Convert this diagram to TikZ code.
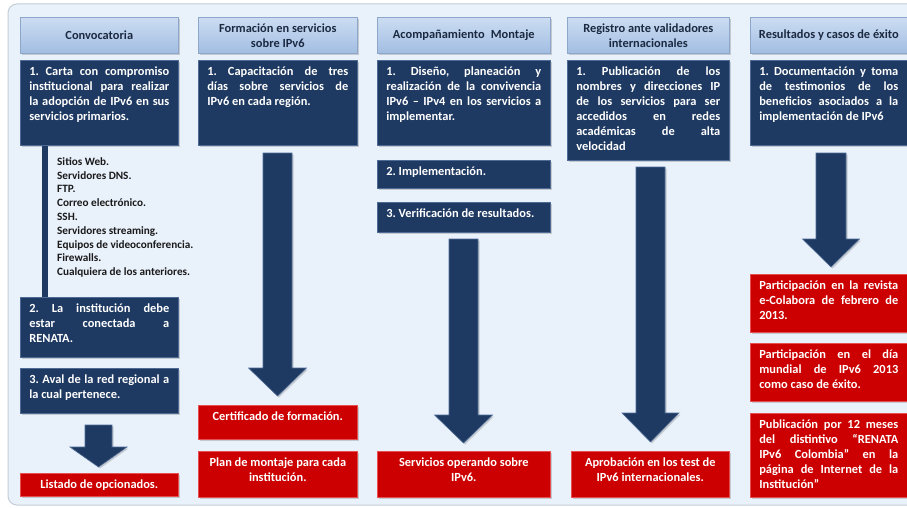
\documentclass[tikz,border=0pt]{standalone}
\usepackage{fontspec}
\setmainfont{Carlito}
\usetikzlibrary{shadows}
\definecolor{bgfill}{HTML}{E9F1FB}
\definecolor{bgline}{HTML}{C5CDD7}
\definecolor{hdrtop}{HTML}{CCDDF2}
\definecolor{hdrbot}{HTML}{A2BDE2}
\definecolor{hdredge}{HTML}{8DA7CB}
\definecolor{hdrtext}{HTML}{1B2A41}
\definecolor{navy}{HTML}{1F3A62}
\definecolor{navyedge}{HTML}{4D6B95}
\definecolor{redbox}{HTML}{CC0000}
\definecolor{rededge}{HTML}{E65050}
\definecolor{listtext}{HTML}{1A1A1A}
\hyphenpenalty=10000 \exhyphenpenalty=10000
\frenchspacing
\newcommand{\jt}[3]{\parbox[t][#2pt][t]{#1pt}{\frenchspacing\rule{0pt}{15pt}#3}}
\newcommand{\ct}[3]{\parbox[t][#2pt][t]{#1pt}{\frenchspacing\centering\rule{0pt}{15pt}#3}}
\newcommand{\blockarrow}[6]{%
  \filldraw[barrow] ({#1-#5/2},#2) -- ({#1+#5/2},#2) -- ({#1+#5/2},#3) -- ({#1+#6/2},#3)
    -- (#1,#4) -- ({#1-#6/2},#3) -- ({#1-#5/2},#3) -- cycle;}
\tikzset{
  shad/.style={drop shadow={shadow xshift=1.5pt, shadow yshift=-1.5pt, opacity=.35}},
  base/.style={rectangle, inner xsep=9pt, inner ysep=0pt, anchor=north west, shad,
    font=\bfseries\fontsize{12.4}{15}\selectfont, text=white},
  hdr/.style={rectangle, anchor=north west, inner sep=0pt, minimum height=36pt,
    top color=hdrtop, bottom color=hdrbot, draw=hdredge, line width=.6pt, shad,
    align=center, text=hdrtext, font=\bfseries\fontsize{12.4}{15}\selectfont},
  dbox/.style={base, fill=navy, draw=navyedge, line width=.6pt},
  rbox/.style={base, fill=redbox, draw=rededge, line width=.6pt},
  listtxt/.style={anchor=north west, inner sep=0pt, align=left, text=listtext,
    font=\bfseries\fontsize{11.2}{13.8}\selectfont},
  barrow/.style={fill=navy, draw=navyedge, line width=.6pt, shad}
}
\begin{document}
\begin{tikzpicture}[x=1pt,y=-1pt]
\useasboundingbox (0,0) rectangle (907,508);
\fill[white] (0,0) rectangle (907,508);
\draw[bgline, fill=bgfill, rounded corners=9pt, line width=1pt] (8,4) rectangle (940,505);

% headers
\node[hdr, minimum width=158pt] (h1) at (20,17) {Convocatoria};
\node[hdr, minimum width=159pt] (h2) at (198,17) {Formación en servicios\\sobre IPv6};
\node[hdr, minimum width=173pt] (h3) at (377,17) {Acompañamiento\enspace Montaje};
\node[hdr, minimum width=162pt] (h4) at (567,17) {Registro ante validadores\\internacionales};
\node[hdr, minimum width=157pt] (h5) at (750,17) {Resultados y casos de éxito};

% column 1
\node[dbox] (a1) at (20,60) {\jt{140}{85}{1. Carta con compromiso\linebreak institucional para realizar\linebreak la adopción de IPv6 en sus\linebreak servicios primarios.}};
\node[dbox] (b1) at (20,297) {\jt{140}{60}{2. La institución debe\linebreak estar conectada a\linebreak RENATA.}};
\fill[navy] ([xshift=22pt]a1.south west) rectangle ([xshift=28pt]b1.north west);
\node[listtxt] (l1) at (57,153) {\rule{0pt}{12pt}Sitios Web.\\Servidores DNS.\\FTP.\\Correo electrónico.\\SSH.\\Servidores streaming.\\Equipos de videoconferencia.\\Firewalls.\\Cualquiera de los anteriores.};
\node[dbox] (c1) at (20,368) {\jt{140}{45}{3. Aval de la red regional a\linebreak la cual pertenece.}};
\blockarrow{98.5}{425}{447}{467}{27}{57}
\node[rbox] (r1) at (20,473) {\ct{140}{23}{Listado de opcionados.}};

% column 2
\node[dbox] (a2) at (198,60) {\jt{141}{85}{1. Capacitación de tres\linebreak días sobre servicios de\linebreak IPv6 en cada región.}};
\blockarrow{277.5}{153}{368}{396}{29}{58}
\node[rbox] (r2a) at (198,405) {\ct{141}{34}{Certificado de formación.}};
\node[rbox] (r2b) at (198,451) {\ct{141}{46}{Plan de montaje para cada\\institución.}};

% column 3
\node[dbox] (a3) at (377,60) {\jt{155}{85}{1. Diseño, planeación y\linebreak realización de la convivencia\linebreak IPv6 – IPv4 en los servicios a\linebreak implementar.}};
\node[dbox] (b3) at (377,160) {\jt{155}{28}{2. Implementación.}};
\node[dbox] (c3) at (377,202) {\jt{155}{30}{3. Verificación de resultados.}};
\blockarrow{463.5}{239}{415}{443}{29}{58}
\node[rbox] (r3) at (377,451) {\ct{155}{46}{Servicios operando sobre\\IPv6.}};

% column 4
\node[dbox] (a4) at (567,60) {\jt{144}{100}{1. Publicación de los\linebreak nombres y direcciones IP\linebreak de los servicios para ser\linebreak accedidos en redes\linebreak académicas de alta\linebreak velocidad}};
\blockarrow{650.5}{167}{413}{442}{29}{57}
\node[rbox] (r4) at (571,451) {\ct{140}{46}{Aprobación en los test de\\IPv6 internacionales.}};

% column 5
\node[dbox] (a5) at (750,60) {\jt{139}{85}{1. Documentación y toma\linebreak de testimonios de los\linebreak beneficios asociados a la\linebreak implementación de IPv6}};
\blockarrow{831}{153}{239}{267}{30}{57}
\node[rbox] (r5a) at (750,274) {\jt{139}{58}{Participación en la revista\linebreak e-Colabora de febrero de\linebreak 2013.}};
\node[rbox] (r5b) at (750,343) {\jt{139}{58}{Participación en el día\linebreak mundial de IPv6 2013\linebreak como caso de éxito.}};
\node[rbox] (r5c) at (750,413) {\jt{139}{84}{Publicación por 12 meses\linebreak del distintivo “RENATA\linebreak IPv6 Colombia” en la\linebreak página de Internet de la\linebreak Institución”}};
\end{tikzpicture}
\end{document}
